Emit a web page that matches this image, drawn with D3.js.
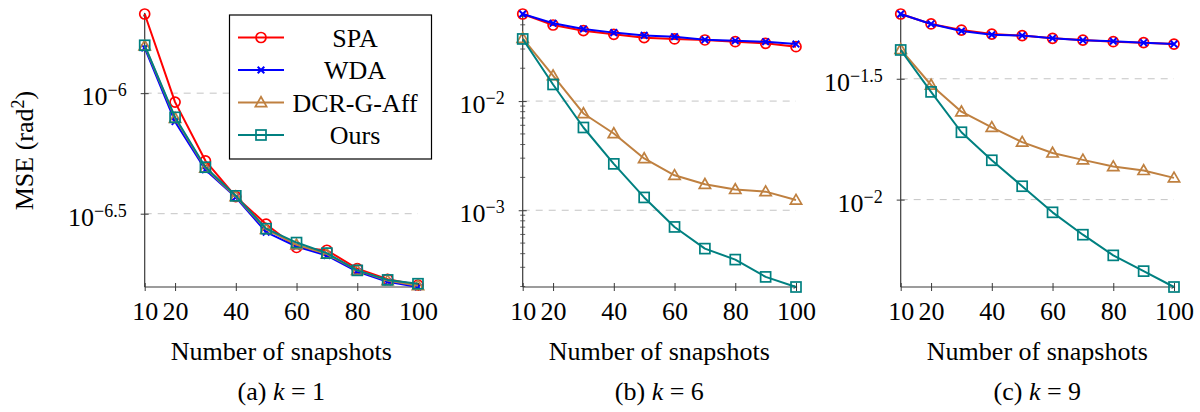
<!DOCTYPE html>
<html>
<head>
<meta charset="utf-8">
<script src="https://cdn.jsdelivr.net/npm/d3@7"></script>
<style>
  body { margin: 0; background: #fff; }
  svg text { font-family: "Liberation Serif", "Times New Roman", serif; fill: #000; }
</style>
</head>
<body>
<div id="chart"></div>
<script>
// snapshots on the x axis
const snapshots = [10, 20, 30, 40, 50, 60, 70, 80, 90, 100];
const xTicks = [10, 20, 40, 60, 80, 100];
const seriesNames = ["SPA", "WDA", "DCR-G-Aff", "Ours"];

// (a) k = 1
const spaK1  = [2.13e-6, 9.18e-7, 5.24e-7, 3.72e-7, 2.86e-7, 2.29e-7, 2.23e-7, 1.87e-7, 1.69e-7, 1.60e-7];
const wdaK1  = [1.54e-6, 7.62e-7, 4.81e-7, 3.70e-7, 2.65e-7, 2.31e-7, 2.12e-7, 1.82e-7, 1.65e-7, 1.57e-7];
const dcrK1  = [1.57e-6, 7.87e-7, 4.89e-7, 3.72e-7, 2.72e-7, 2.35e-7, 2.15e-7, 1.84e-7, 1.67e-7, 1.59e-7];
const oursK1 = [1.58e-6, 7.94e-7, 4.93e-7, 3.75e-7, 2.74e-7, 2.40e-7, 2.17e-7, 1.84e-7, 1.68e-7, 1.62e-7];

// (b) k = 6
const spaK6  = [0.0628, 0.0498, 0.0442, 0.0409, 0.0381, 0.0371, 0.0363, 0.0350, 0.0338, 0.0315];
const wdaK6  = [0.0628, 0.0516, 0.0458, 0.0424, 0.0400, 0.0389, 0.0365, 0.0358, 0.0350, 0.0333];
const dcrK6  = [0.0376, 0.0171, 0.0077, 0.00505, 0.00298, 0.00209, 0.00173, 0.00155, 0.00148, 0.00124];
const oursK6 = [0.0371, 0.0142, 0.00573, 0.00266, 0.00131, 0.000703, 0.000445, 0.000353, 0.000245, 0.000198];

// (c) k = 9
const spaK9  = [0.0586, 0.0533, 0.0503, 0.0484, 0.0477, 0.0465, 0.0457, 0.0450, 0.0446, 0.0440];
const wdaK9  = [0.0586, 0.0533, 0.0498, 0.0481, 0.0477, 0.0465, 0.0456, 0.0452, 0.0446, 0.0440];
const dcrK9  = [0.0418, 0.0298, 0.0231, 0.0199, 0.0173, 0.0156, 0.0146, 0.0137, 0.0132, 0.0123];
const oursK9 = [0.0416, 0.0279, 0.0190, 0.01455, 0.01136, 0.00886, 0.00716, 0.00588, 0.00506, 0.00435];

// y tick exponents (labels are 10^e)
const yTickExpK1 = [-6, -6.5];
const yTickExpK6 = [-2, -3];
const yTickExpK9 = [-1.5, -2];

const captionLetters = ["(a)", "(b)", "(c)"];
const captionK = ["1", "6", "9"];

const W = 1200, H = 412;
const plotW = 273.3, plotTop = 14, plotBottom = 287;
const lefts = [144.7, 522.7, 900.7];
const colors = ["#ff0000", "#0000ff", "#bf8040", "#008080"];
const marks = ["circle", "cross", "triangle", "square"];
const axisColor = "#3a3a3a";

const panels = [
  { series: [spaK1, wdaK1, dcrK1, oursK1], yExp: yTickExpK1, minor: false, legend: true },
  { series: [spaK6, wdaK6, dcrK6, oursK6], yExp: yTickExpK6, minor: true, legend: false },
  { series: [spaK9, wdaK9, dcrK9, oursK9], yExp: yTickExpK9, minor: false, legend: false }
];

const svg = d3.select("#chart").append("svg")
  .attr("width", W).attr("height", H)
  .attr("viewBox", `0 0 ${W} ${H}`);

svg.append("defs").append("marker")
  .attr("id", "arrow")
  .attr("viewBox", "0 0 8 8")
  .attr("refX", 6).attr("refY", 4)
  .attr("markerWidth", 5).attr("markerHeight", 5)
  .attr("markerUnits", "userSpaceOnUse")
  .attr("orient", "auto")
  .append("path").attr("d", "M0,0.8 L7,4 L0,7.2 L1.8,4 Z").attr("fill", axisColor);

function drawMark(g, type, cx, cy, color) {
  if (type === "circle") {
    g.append("circle").attr("cx", cx).attr("cy", cy).attr("r", 5)
      .attr("fill", "none").attr("stroke", color).attr("stroke-width", 1.7);
  } else if (type === "square") {
    g.append("rect").attr("x", cx - 5).attr("y", cy - 5).attr("width", 10).attr("height", 10)
      .attr("fill", "none").attr("stroke", color).attr("stroke-width", 1.7);
  } else if (type === "triangle") {
    g.append("path").attr("d", d3.symbol(d3.symbolTriangle, 55)())
      .attr("transform", `translate(${cx},${cy + 0.8})`)
      .attr("fill", "none").attr("stroke", color).attr("stroke-width", 1.7);
  } else {
    const s = 3.3;
    g.append("path").attr("d", `M${cx - s},${cy - s}L${cx + s},${cy + s}M${cx - s},${cy + s}L${cx + s},${cy - s}`)
      .attr("stroke", color).attr("stroke-width", 2);
  }
}

function powLabel(sel, e) {
  sel.append("tspan").text("10");
  sel.append("tspan").attr("dy", -9).attr("font-size", 18)
    .text("\u2212" + String(Math.abs(e)));
}

panels.forEach((p, i) => {
  const g = svg.append("g");
  const left = lefts[i];
  const x = d3.scaleLinear().domain([10, 100]).range([left, left + plotW]);
  const all = p.series.flat();
  const y = d3.scaleLog().domain([d3.min(all), d3.max(all)]).range([plotBottom, plotTop]);
  const majors = p.yExp.map(e => Math.pow(10, e));

  // dashed grid at the major y ticks
  g.selectAll(".grid").data(majors).join("line")
    .attr("x1", left).attr("x2", left + plotW)
    .attr("y1", d => y(d)).attr("y2", d => y(d))
    .attr("stroke", "#c4c4c4").attr("stroke-width", 1)
    .attr("stroke-dasharray", "7,6");

  // minor ticks (log axis, panel b)
  if (p.minor) {
    const minors = y.ticks().filter(v => !majors.some(m => Math.abs(m - v) / m < 1e-9));
    g.selectAll(".minor").data(minors).join("line")
      .attr("x1", left - 2.5).attr("x2", left + 2.5)
      .attr("y1", d => y(d)).attr("y2", d => y(d))
      .attr("stroke", axisColor).attr("stroke-width", 0.8);
  }

  // x axis
  const xa = g.append("g").attr("transform", `translate(0,${plotBottom})`)
    .call(d3.axisBottom(x).tickValues(xTicks).tickSize(4).tickSizeOuter(0));
  xa.select(".domain").remove();
  xa.selectAll(".tick line").attr("y1", -4).attr("y2", 4)
    .attr("stroke", axisColor).attr("stroke-width", 1);
  xa.selectAll(".tick text").attr("y", 33).attr("dy", 0)
    .attr("font-size", 26).attr("font-family", "Liberation Serif").attr("fill", "#000");

  // y axis
  const ya = g.append("g").attr("transform", `translate(${left},0)`)
    .call(d3.axisLeft(y).tickValues(majors).tickFormat("").tickSize(4).tickSizeOuter(0));
  ya.select(".domain").remove();
  ya.selectAll(".tick line").attr("x1", -4).attr("x2", 4)
    .attr("stroke", axisColor).attr("stroke-width", 1);
  p.yExp.forEach(e => {
    const t = g.append("text")
      .attr("x", left - 18).attr("y", y(Math.pow(10, e)) + 12)
      .attr("text-anchor", "end").attr("font-size", 26);
    powLabel(t, e);
  });

  // axis lines with small arrow tips
  g.append("line").attr("x1", left).attr("x2", left + plotW + 1)
    .attr("y1", plotBottom).attr("y2", plotBottom)
    .attr("stroke", axisColor).attr("stroke-width", 1.2).attr("marker-end", "url(#arrow)");
  g.append("line").attr("x1", left).attr("x2", left)
    .attr("y1", plotBottom).attr("y2", plotTop - 1)
    .attr("stroke", axisColor).attr("stroke-width", 1.2).attr("marker-end", "url(#arrow)");

  // series
  const line = d3.line().x((d, j) => x(snapshots[j])).y(d => y(d));
  p.series.forEach((vals, s) => {
    const sg = g.append("g");
    sg.append("path").attr("d", line(vals))
      .attr("fill", "none").attr("stroke", colors[s]).attr("stroke-width", 2)
      .attr("stroke-linejoin", "round");
    vals.forEach((v, j) => drawMark(sg, marks[s], x(snapshots[j]), y(v), colors[s]));
  });

  // axis titles and caption
  const cx = left + plotW / 2;
  g.append("text").attr("x", cx).attr("y", 360).attr("text-anchor", "middle")
    .attr("font-size", 26).text("Number of snapshots");
  const cap = g.append("text").attr("x", cx).attr("y", 400).attr("text-anchor", "middle")
    .attr("font-size", 26);
  cap.append("tspan").text(captionLetters[i] + " ");
  cap.append("tspan").attr("font-style", "italic").text("k");
  cap.append("tspan").text(" = " + captionK[i]);

  // legend
  if (p.legend) {
    const lg = g.append("g");
    lg.append("rect").attr("x", 229.5).attr("y", 15).attr("width", 202).attr("height", 144)
      .attr("fill", "#fff").attr("stroke", "#000").attr("stroke-width", 1.2);
    seriesNames.forEach((name, s) => {
      const ly = 37.5 + s * 32.5;
      lg.append("line").attr("x1", 238).attr("x2", 284).attr("y1", ly).attr("y2", ly)
        .attr("stroke", colors[s]).attr("stroke-width", 2);
      drawMark(lg, marks[s], 261, ly, colors[s]);
      lg.append("text").attr("x", 355).attr("y", ly + 9).attr("text-anchor", "middle")
        .attr("font-size", 26).text(name);
    });
  }
});

// y axis title
svg.append("text")
  .attr("transform", `translate(33,${(plotTop + plotBottom) / 2}) rotate(-90)`)
  .attr("text-anchor", "middle").attr("font-size", 26)
  .call(t => {
    t.append("tspan").text("MSE (rad");
    t.append("tspan").attr("dy", -9).attr("font-size", 18).text("2");
    t.append("tspan").attr("dy", 9).text(")");
  });
</script>
</body>
</html>
